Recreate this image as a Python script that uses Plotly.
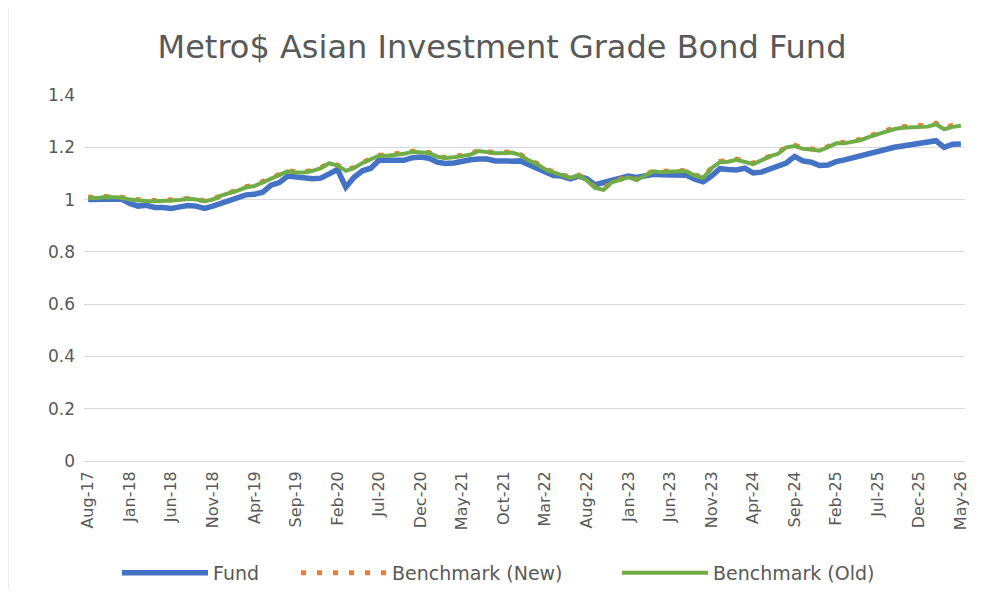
import plotly.graph_objects as go
import pandas as pd

months = [d.strftime("%b-%y") for d in pd.date_range("2017-08-01", "2026-05-01", freq="MS")]
tick_labels = months[::5]

fund = [1.000, 1.000, 1.003, 1.003, 1.002, 0.985, 0.975, 0.978, 0.970, 0.970,
        0.966, 0.972, 0.977, 0.975, 0.966, 0.975, 0.985, 0.995, 1.005, 1.018,
        1.020, 1.028, 1.055, 1.065, 1.090, 1.085, 1.080, 1.080, 1.082, 1.100,
        1.115, 1.047, 1.085, 1.110, 1.120, 1.150, 1.148, 1.150, 1.150, 1.160,
        1.163, 1.158, 1.143, 1.138, 1.140, 1.148, 1.152, 1.155, 1.155, 1.148,
        1.146, 1.147, 1.148, 1.135, 1.118, 1.108, 1.092, 1.090, 1.079, 1.090,
        1.080, 1.057, 1.065, 1.075, 1.080, 1.090, 1.085, 1.093, 1.097, 1.095,
        1.093, 1.095, 1.093, 1.078, 1.068, 1.090, 1.118, 1.115, 1.113, 1.120,
        1.102, 1.105, 1.115, 1.125, 1.140, 1.165, 1.148, 1.143, 1.130, 1.132,
        1.145, 1.152, 1.160, 1.168, 1.175, 1.182, 1.195, 1.200, 1.205, 1.210,
        1.213, 1.215, 1.225, 1.200, 1.212, 1.213]

bench_old = [1.008, 1.005, 1.010, 1.010, 1.008, 1.000, 0.996, 0.995, 0.994, 0.994,
             0.996, 0.998, 1.003, 1.000, 0.994, 1.000, 1.015, 1.025, 1.034, 1.047,
             1.052, 1.066, 1.080, 1.095, 1.108, 1.104, 1.104, 1.110, 1.120, 1.139,
             1.130, 1.110, 1.121, 1.140, 1.155, 1.168, 1.168, 1.172, 1.175, 1.183,
             1.182, 1.178, 1.164, 1.159, 1.162, 1.168, 1.172, 1.186, 1.182, 1.177,
             1.178, 1.180, 1.170, 1.150, 1.136, 1.115, 1.104, 1.095, 1.083, 1.092,
             1.073, 1.045, 1.037, 1.066, 1.075, 1.085, 1.075, 1.092, 1.108, 1.105,
             1.108, 1.108, 1.108, 1.092, 1.083, 1.120, 1.143, 1.145, 1.152, 1.145,
             1.136, 1.150, 1.165, 1.175, 1.200, 1.205, 1.194, 1.192, 1.187, 1.200,
             1.215, 1.215, 1.220, 1.228, 1.240, 1.250, 1.262, 1.270, 1.275, 1.276,
             1.276, 1.279, 1.288, 1.269, 1.278, 1.282]

bench_new = [1.010, 1.007, 1.012, 1.011, 1.009, 1.002, 0.998, 0.997, 0.996, 0.996,
             0.998, 1.000, 1.005, 1.002, 0.996, 1.002, 1.017, 1.027, 1.036, 1.049,
             1.055, 1.068, 1.082, 1.097, 1.110, 1.106, 1.106, 1.112, 1.122, 1.141,
             1.132, 1.112, 1.123, 1.142, 1.157, 1.170, 1.170, 1.174, 1.178, 1.185,
             1.184, 1.180, 1.166, 1.161, 1.164, 1.170, 1.175, 1.189, 1.185, 1.179,
             1.181, 1.182, 1.172, 1.152, 1.138, 1.117, 1.106, 1.097, 1.085, 1.094,
             1.075, 1.047, 1.039, 1.068, 1.077, 1.087, 1.077, 1.094, 1.110, 1.108,
             1.111, 1.110, 1.111, 1.094, 1.085, 1.122, 1.146, 1.148, 1.155, 1.148,
             1.139, 1.153, 1.168, 1.178, 1.203, 1.208, 1.197, 1.195, 1.190, 1.203,
             1.218, 1.218, 1.223, 1.231, 1.243, 1.253, 1.266, 1.274, 1.279, 1.281,
             1.281, 1.284, 1.292, 1.273, 1.284, 1.287]

y_ticks = [0, 0.2, 0.4, 0.6, 0.8, 1, 1.2, 1.4]
y_tick_text = ["0", "0.2", "0.4", "0.6", "0.8", "1", "1.2", "1.4"]

font_family = "DejaVu Sans, Open Sans, sans-serif"
grey = "#595959"

# page body has an 8px margin; the figure is laid out in its own coordinates
OFF = 8
W, H = 987 - 2 * OFF, 597 - 2 * OFF
L, T = 84 - OFF, 95 - OFF
R = W - (965 - OFF)
B = H - (461 - OFF)
pw, ph = W - L - R, H - T - B


def px_x(x):
    return (x - OFF - L) / pw


def px_y(y):
    return (H - B - (y - OFF)) / ph


fig = go.Figure()
fig.add_trace(go.Scatter(x=months, y=fund, mode="lines", name="Fund",
                         line=dict(color="#4472C4", width=5.5), legend="legend"))
fig.add_trace(go.Scatter(x=months, y=bench_new, mode="lines", name="Benchmark (New)",
                         line=dict(color="#ED7D31", width=5, dash="5px,11px"), legend="legend2"))
fig.add_trace(go.Scatter(x=months, y=bench_old, mode="lines", name="Benchmark (Old)",
                         line=dict(color="#70AD47", width=4), legend="legend3"))

leg_common = dict(orientation="h", yanchor="middle", xanchor="left",
                  font=dict(size=19, color=grey, family=font_family), itemwidth=86,
                  bgcolor="rgba(0,0,0,0)")

fig.update_layout(
    width=W, height=H,
    margin=dict(l=L, r=R, t=T, b=B, autoexpand=False),
    paper_bgcolor="white", plot_bgcolor="white",
    title=dict(text="Metro$ Asian Investment Grade Bond Fund",
               x=(502 - OFF) / W, xanchor="center",
               y=1 - (47 - OFF) / H, yanchor="middle",
               font=dict(family=font_family, size=32, color=grey)),
    font=dict(family=font_family, color=grey),
    showlegend=True,
    legend=dict(x=px_x(117), y=px_y(573), **leg_common),
    legend2=dict(x=px_x(296), y=px_y(573), **leg_common),
    legend3=dict(x=px_x(617), y=px_y(573), **leg_common),
    xaxis=dict(type="category", tickmode="array", tickvals=tick_labels, ticktext=tick_labels,
               tickangle=-90, tickfont=dict(size=16, color=grey, family=font_family),
               showgrid=False, showline=False, ticks="", ticklabelstandoff=6,
               range=[-0.5, len(months) - 0.5]),
    yaxis=dict(range=[0, 1.4], tickvals=y_ticks, ticktext=y_tick_text,
               tickfont=dict(size=17, color=grey, family=font_family), showgrid=True,
               gridcolor="#d9d9d9", gridwidth=1, zeroline=True, zerolinecolor="#d9d9d9",
               zerolinewidth=1, showline=False, ticks="", ticklabelstandoff=8),
)

# outer chart border (left edge visible in the reference)
fig.add_shape(type="line", xref="paper", yref="paper",
              x0=px_x(8), x1=px_x(8), y0=px_y(597), y1=px_y(0),
              line=dict(color="#d9d9d9", width=1), layer="below")

fig.write_html("out.html")
